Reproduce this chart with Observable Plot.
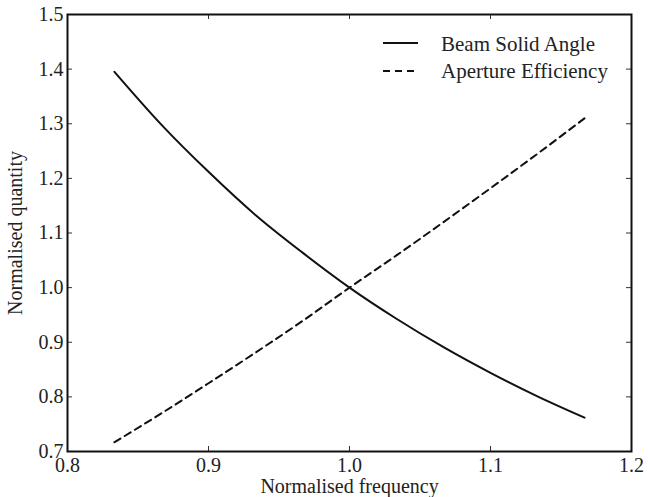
<!DOCTYPE html>
<html><head><meta charset="utf-8">
<script src="https://cdn.jsdelivr.net/npm/d3@7"></script>
<script src="https://cdn.jsdelivr.net/npm/@observablehq/plot@0.6"></script>
<style>
body{margin:0;background:#fff}
#chart{position:relative;width:648px;height:497px}
#legend{position:absolute;left:0;top:0;pointer-events:none}
</style></head><body><div id="chart"></div>
<script>
const frequency = [0.8333, 0.8667, 0.9, 0.9333, 0.9667, 1.0, 1.0333, 1.0667, 1.1, 1.1333, 1.1667];
const beamSolidAngle = [1.395, 1.298, 1.212, 1.133, 1.064, 1.0, 0.943, 0.891, 0.844, 0.801, 0.762];
const apertureEfficiency = [0.717, 0.770, 0.825, 0.881, 0.939, 1.0, 1.059, 1.120, 1.182, 1.245, 1.310];
const seriesNames = ["Beam Solid Angle", "Aperture Efficiency"];
const xTicks = [0.8, 0.9, 1.0, 1.1, 1.2];
const yTicks = [0.7, 0.8, 0.9, 1.0, 1.1, 1.2, 1.3, 1.4, 1.5];
const xLabel = "Normalised frequency";
const yLabel = "Normalised quantity";

const W = 648, H = 497;
const mL = 67, mR = 17, mT = 14, mB = 46;
const innerW = W - mL - mR, innerH = H - mT - mB;
const tickLen = 5;
const font = "Liberation Serif, Tinos, Times New Roman, Times, DejaVu Serif, serif";

const beamRows = frequency.map((f, i) => ({f, v: beamSolidAngle[i]}));
const apRows = frequency.map((f, i) => ({f, v: apertureEfficiency[i]}));

const chart = Plot.plot({
  width: W, height: H,
  marginLeft: mL, marginRight: mR, marginTop: mT, marginBottom: mB,
  style: {fontFamily: font, fontSize: "20px", color: "#222", background: "#fff"},
  x: {domain: [0.8, 1.2]},
  y: {domain: [0.7, 1.5]},
  marks: [
    Plot.line(beamRows, {x: "f", y: "v", stroke: "#111", strokeWidth: 2, curve: "monotone-x"}),
    Plot.line(apRows, {x: "f", y: "v", stroke: "#111", strokeWidth: 2, strokeDasharray: "7,5", curve: "monotone-x"}),
    Plot.tickX(xTicks, {x: d => d, insetTop: innerH - tickLen, stroke: "#333", strokeWidth: 1}),
    Plot.tickX(xTicks, {x: d => d, insetBottom: innerH - tickLen, stroke: "#333", strokeWidth: 1}),
    Plot.tickY(yTicks, {y: d => d, insetRight: innerW - tickLen, stroke: "#333", strokeWidth: 1}),
    Plot.tickY(yTicks, {y: d => d, insetLeft: innerW - tickLen, stroke: "#333", strokeWidth: 1}),
    Plot.axisX({ticks: xTicks, tickSize: 0, tickPadding: 6, tickFormat: d3.format(".1f"),
      label: xLabel, labelAnchor: "center", labelArrow: "none", labelOffset: 41, fill: "#222", fontFamily: font, fontSize: 20}),
    Plot.axisY({ticks: yTicks, tickSize: 0, tickPadding: 4, tickFormat: d3.format(".1f"),
      label: yLabel, labelAnchor: "center", labelArrow: "none", labelOffset: 60, fill: "#222", fontFamily: font, fontSize: 20}),
    Plot.frame({stroke: "#111", strokeWidth: 2})
  ]
});

const container = document.getElementById("chart");
container.appendChild(chart);

// Legend overlay
const legendItems = [
  {name: seriesNames[0], dash: null, y: 43, ty: 51},
  {name: seriesNames[1], dash: "7,5", y: 71, ty: 78}
];
const lg = d3.select(container).append("svg")
  .attr("id", "legend").attr("width", W).attr("height", H);
legendItems.forEach(it => {
  lg.append("line").attr("x1", 383).attr("x2", 418).attr("y1", it.y).attr("y2", it.y)
    .attr("stroke", "#111").attr("stroke-width", 2)
    .attr("stroke-dasharray", it.dash);
  lg.append("text").attr("x", 441).attr("y", it.ty).text(it.name)
    .style("font-family", font).style("font-size", "21px").attr("fill", "#222");
});
</script>
</body></html>
